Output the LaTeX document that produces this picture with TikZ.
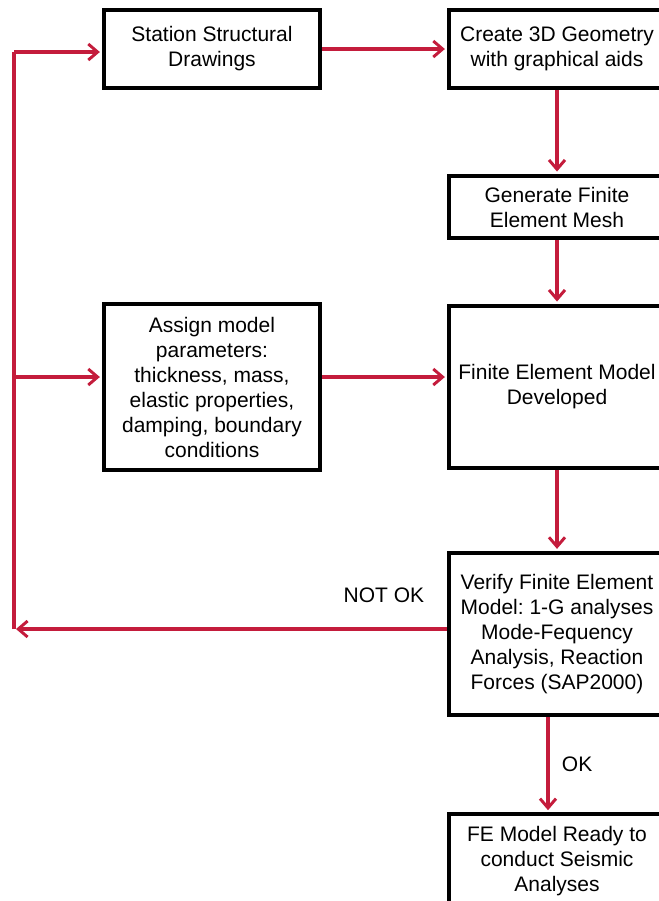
\documentclass[tikz,border=0pt]{standalone}
\usepackage{fontspec}
\setmainfont{Liberation Sans}
\usepackage{xcolor}
\usetikzlibrary{arrows.meta, positioning, calc}

\definecolor{flowred}{RGB}{196,28,60}
\frenchspacing

\begin{document}
\begin{tikzpicture}[x=0.75pt, y=-0.75pt, >={Straight Barb[length=7pt, width=12pt, line width=2.2pt]},
    box/.style={draw, line width=3.2pt, align=center, inner sep=2pt, minimum width=162pt,
        font=\fontsize{15.75}{18.75}\selectfont},
    flow/.style={->, flowred, line width=2.3pt, shorten >=1.5pt},
    tag/.style={text=black, font=\fontsize{15.75}{18.75}\selectfont}]
    % Page frame
    \useasboundingbox (0,0) rectangle (659,901);
    \clip (0,0) rectangle (659,901);
    \fill[white] (0,0) rectangle (659,901);

    % Left column
    \node[box, minimum height=58.5pt] (station) at (212,49) {Station Structural\\Drawings};
    \node[box, minimum height=124pt] (assign) at (212,387) {Assign model\\parameters:\\thickness, mass,\\elastic properties,\\damping, boundary\\conditions};

    % Right column
    \node[box, minimum height=58.5pt] (geometry) at (557,49) {Create 3D Geometry\\with graphical aids};
    \node[box, minimum height=47pt] (mesh) at (557,207) {Generate Finite\\Element Mesh};
    \node[box, minimum height=122pt] (femodel) at (557,387) {Finite Element Model\\Developed};
    \node[box, minimum height=121.5pt] (verify) at (557,634) {Verify Finite Element\\Model: 1-G analyses\\Mode-Fequency\\Analysis, Reaction\\Forces (SAP2000)};
    \node[box, minimum height=70pt] (ready) at (557,861) {FE Model Ready to\\conduct Seismic\\Analyses};

    % Feedback loop
    \coordinate (loopT) at (14,52);
    \coordinate (loopM) at (14,377);
    \coordinate (loopB) at (14,629);

    % Connectors
    \draw[flow] (station) -- (geometry);
    \draw[flow] (assign.east |- loopM) -- (femodel.west |- loopM);
    \foreach \a/\b in {geometry/mesh, mesh/femodel, femodel/verify}{
        \draw[flow] (\a) -- (\b);
    }
    \draw[flow] ([xshift=-6.75pt]verify.south) -- ([xshift=-6.75pt]ready.north)
        node[tag, midway, right=6pt] (ok) {OK};
    \draw[flow] (verify.west |- loopB) -- (loopB);
    \draw[flowred, line width=2.3pt] (loopB) -- (loopT);
    \draw[flow] (loopT) -- (station.west |- loopT);
    \draw[flow] (loopM) -- (assign.west |- loopM);
    \node[tag] (notok) at (384,595) {NOT OK};

\end{tikzpicture}
\end{document}
